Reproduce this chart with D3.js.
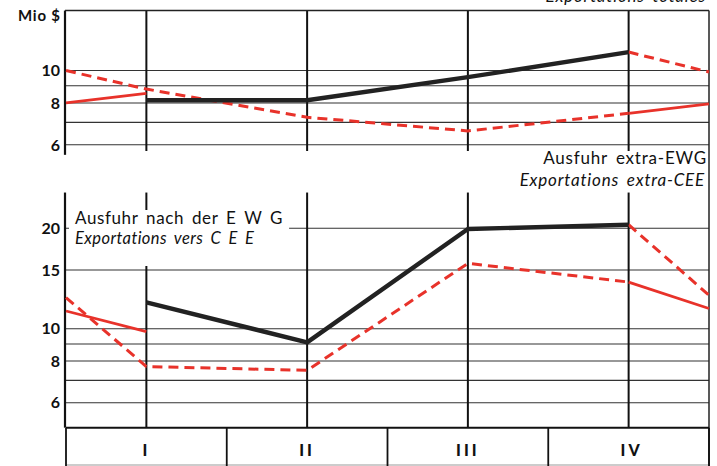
<!DOCTYPE html>
<html><head><meta charset="utf-8">
<script src="https://cdn.jsdelivr.net/npm/d3@7/dist/d3.min.js"></script>
<style>body{margin:0;background:#fff}svg{display:block}</style>
</head><body><svg id="c" width="717" height="466"></svg>
<script>
// ---- data ----
const quarters = ["I", "II", "III", "IV"];
// positions: -0.5 = left edge (previous quarter), 0..3 = I..IV, 3.5 = right edge
const topTicks = [6, 8, 10];
const topGrid = [6, 7, 8, 9, 10];
const bottomTicks = [6, 8, 10, 15, 20];
const bottomGrid = [6, 7, 8, 9, 10, 15, 20];

// top panel
const topBlack = [[0, 8.15], [1, 8.15], [2, 9.55], [3, 11.35]];
const topDashed = [[-0.5, 10.0], [0, 8.8], [1, 7.25], [2, 6.6], [3, 7.45]];
const topDashedEnd = [[3, 11.35], [3.5, 9.9]];
const topSolidStart = [[-0.5, 8.0], [0, 8.55]];
const topSolidEnd = [[3, 7.45], [3.5, 7.95]];

// bottom panel
const botBlack = [[0, 12.0], [1, 9.1], [2, 19.9], [3, 20.5]];
const botDashed = [[-0.5, 12.4], [0, 7.7], [1, 7.5], [2, 15.7], [3, 13.8]];
const botDashedEnd = [[3, 20.5], [3.5, 12.6]];
const botSolidStart = [[-0.5, 11.3], [0, 9.8]];
const botSolidEnd = [[3, 13.8], [3.5, 11.5]];

// ---- drawing ----
const svg = d3.select("#c");
const RED = "#e8322a";
const x = d3.scaleLinear().domain([-0.5, 3.5]).range([66, 709]);
const yTop = d3.scaleLog().domain([6, 10]).range([144.8, 70.5]);
const yBot = d3.scaleLog().domain([6, 20]).range([402.7, 228.3]);
const FONT = "Lato, 'Open Sans', sans-serif";

function panel(y, grid, ticks, top, bottom, vTop, vBottom) {
  const g = svg.append("g");
  g.selectAll(".grid").data(grid).enter().append("line")
    .attr("x1", x(-0.5)).attr("x2", x(3.5))
    .attr("y1", d => y(d)).attr("y2", d => y(d))
    .attr("stroke", "#333").attr("stroke-width", 1.1);
  g.selectAll(".vl").data(quarters).enter().append("line")
    .attr("x1", (d, i) => x(i)).attr("x2", (d, i) => x(i))
    .attr("y1", vTop).attr("y2", vBottom)
    .attr("stroke", "#111").attr("stroke-width", 2);
  g.append("line").attr("x1", x(-0.5) - 1).attr("x2", x(-0.5) - 1)
    .attr("y1", top).attr("y2", bottom).attr("stroke", "#111").attr("stroke-width", 2.2);
  g.selectAll(".tl").data(ticks).enter().append("text")
    .attr("x", x(-0.5) - 6).attr("y", d => y(d)).attr("dy", "0.36em")
    .attr("text-anchor", "end").attr("font-family", FONT).attr("font-weight", 700)
    .attr("font-size", 16).attr("fill", "#111").text(d => d);
  return g;
}

const topG = panel(yTop, topGrid, topTicks, yTop(15.1), yTop(5.6), yTop(15.1), yTop(5.75));
topG.append("line").attr("x1", x(-0.5) - 1).attr("x2", x(3.5))
  .attr("y1", yTop(15.1)).attr("y2", yTop(15.1)).attr("stroke", "#222").attr("stroke-width", 1.5);

const botG = panel(yBot, bottomGrid, bottomTicks, yBot(25.6), yBot(5.05), yBot(25.6), yBot(5.05));

// right border
svg.append("line").attr("x1", x(3.5)).attr("x2", x(3.5))
  .attr("y1", yTop(15.1)).attr("y2", 466).attr("stroke", "#222").attr("stroke-width", 1.5);

// bottom panel legend (white box hides grid)
const leg = svg.append("g");
leg.append("text").attr("x", 75).attr("y", 224).attr("font-family", FONT)
  .attr("font-size", 17).attr("letter-spacing", 0.6).attr("fill", "#111").attr("word-spacing", 3).text("Ausfuhr nach der E W G");
leg.append("text").attr("x", 75).attr("y", 244).attr("font-family", FONT)
  .attr("font-style", "italic").attr("font-size", 16.5).attr("letter-spacing", 0.4).attr("fill", "#111").attr("word-spacing", 3).text("Exportations vers C E E");
const bb = leg.node().getBBox();
leg.insert("rect", "text").attr("x", bb.x - 6).attr("y", bb.y + 3).attr("width", bb.width + 12)
  .attr("height", 266 - bb.y - 3).attr("fill", "#fff");

// top panel labels (below top panel)
svg.append("text").attr("x", 707).attr("y", 164).attr("text-anchor", "end").attr("font-family", FONT)
  .attr("font-size", 17).attr("letter-spacing", 0.8).attr("fill", "#111").attr("word-spacing", 3).text("Ausfuhr extra-EWG");
svg.append("text").attr("x", 705).attr("y", 186).attr("text-anchor", "end").attr("font-family", FONT)
  .attr("font-style", "italic").attr("font-size", 17).attr("letter-spacing", 0.8).attr("fill", "#111").attr("word-spacing", 3).text("Exportations extra-CEE");
svg.append("text").attr("x", 706).attr("y", 2).attr("text-anchor", "end").attr("font-family", FONT)
  .attr("font-style", "italic").attr("font-size", 17).attr("letter-spacing", 0.8).attr("fill", "#111").attr("word-spacing", 3).text("Exportations totales");

// Mio $
svg.append("text").attr("x", 18).attr("y", 21).attr("font-family", FONT).attr("font-weight", 700)
  .attr("font-size", 15).attr("letter-spacing", 0.8).attr("fill", "#111").text("Mio $");

// quarter boxes
const boxTop = yBot(5.05);
svg.append("line").attr("x1", x(-0.5)).attr("x2", x(3.5)).attr("y1", boxTop).attr("y2", boxTop)
  .attr("stroke", "#111").attr("stroke-width", 2);
svg.append("line").attr("x1", x(-0.5)).attr("x2", x(3.5)).attr("y1", 465).attr("y2", 465)
  .attr("stroke", "#999").attr("stroke-width", 1);
svg.selectAll(".bd").data([-0.5, 0.5, 1.5, 2.5, 3.5]).enter().append("line")
  .attr("x1", d => x(d)).attr("x2", d => x(d)).attr("y1", boxTop).attr("y2", 466)
  .attr("stroke", "#111").attr("stroke-width", 1.8);
svg.selectAll(".ql").data(quarters).enter().append("text")
  .attr("x", (d, i) => x(i) + (i === 3 ? 3 : 0)).attr("y", 450).attr("dy", "0.36em")
  .attr("text-anchor", "middle").attr("font-family", FONT).attr("font-weight", 900)
  .attr("font-size", 16).attr("letter-spacing", 3).attr("fill", "#111").text(d => d);

// lines
function draw(data, y, color, width, dash) {
  svg.append("path").datum(data)
    .attr("d", d3.line().x(d => x(d[0])).y(d => y(d[1])))
    .attr("fill", "none").attr("stroke", color).attr("stroke-width", width)
    .attr("stroke-dasharray", dash || null).attr("stroke-linejoin", "round");
}
[[yTop, topSolidStart, topSolidEnd, topDashed, topDashedEnd, topBlack],
 [yBot, botSolidStart, botSolidEnd, botDashed, botDashedEnd, botBlack]].forEach(([y, ss, se, da, de, bl]) => {
  draw(ss, y, RED, 2.8);
  draw(se, y, RED, 2.8);
  draw(da, y, RED, 3, "10,6");
  draw(de, y, RED, 3, "10,6");
  draw(bl, y, "#222", 4.4);
});
</script></body></html>
